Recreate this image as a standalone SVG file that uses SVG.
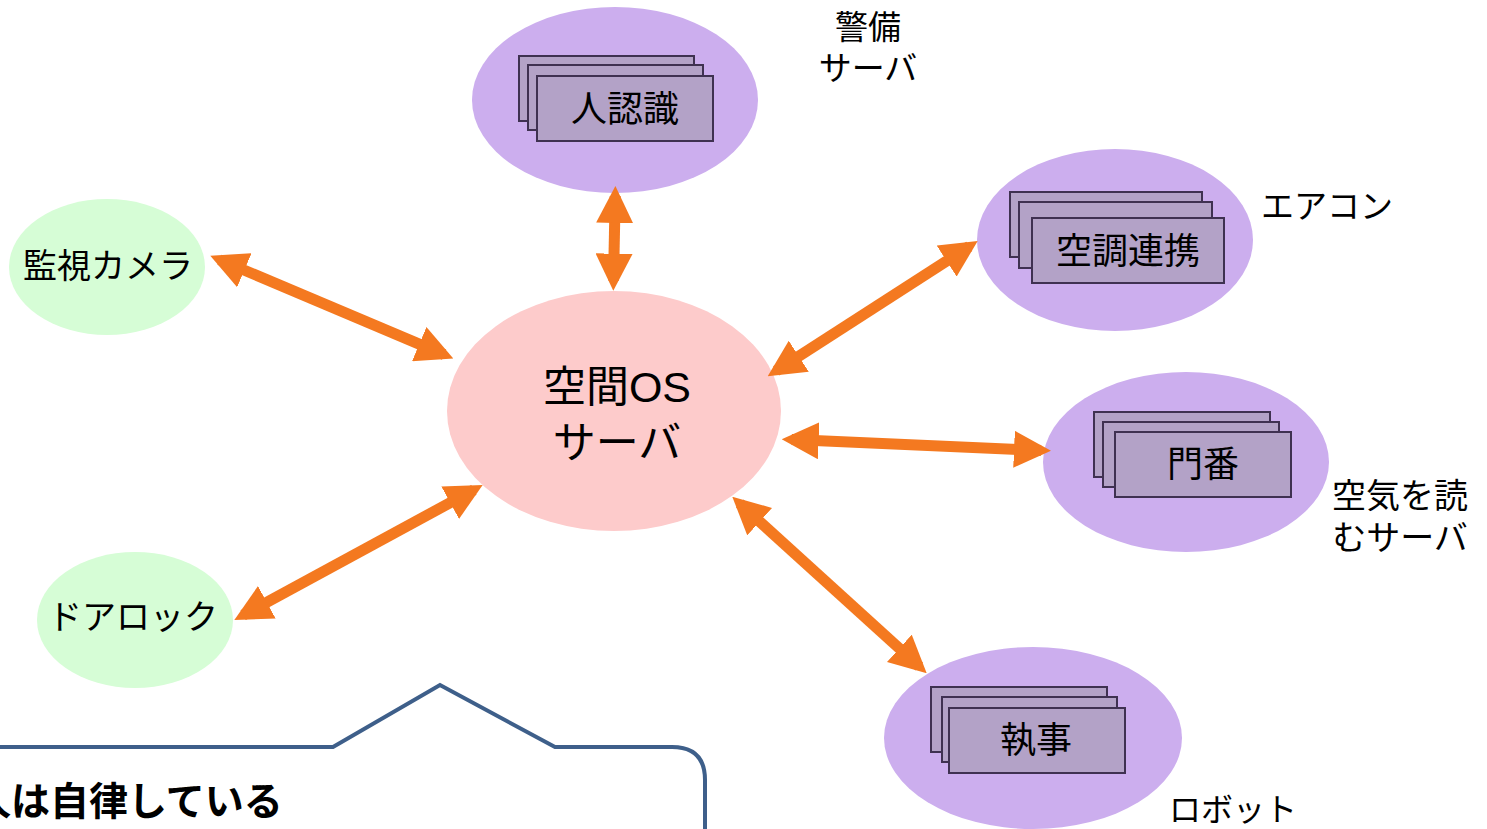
<svg xmlns="http://www.w3.org/2000/svg" width="1487" height="829" viewBox="0 0 1487 829">
<defs>
<style>
.t{font-family:"Liberation Sans","Noto Sans CJK JP",sans-serif;fill:#000;text-anchor:middle;dominant-baseline:central}
.purple{fill:#CCAEEE}
.green{fill:#D6FDD6}
.card{fill:#B3A2C7;stroke:#3F3151;stroke-width:2}
.arr{stroke:#F47920;stroke-width:11;fill:none;marker-start:url(#ah);marker-end:url(#ah)}
</style>
<marker id="ah" markerUnits="userSpaceOnUse" markerWidth="37" markerHeight="37" refX="27" refY="18.5" orient="auto-start-reverse" viewBox="0 0 37 37">
<path d="M0,0 L37,18.5 L0,37 z" fill="#F47920"/>
</marker>
</defs>
<rect width="1487" height="829" fill="#fff"/>

<g id="center">
<ellipse cx="614" cy="411" rx="167" ry="120" fill="#FDCBCB"/>
<text class="t" x="617" y="387" font-size="43">空間OS</text>
<text class="t" x="617" y="443" font-size="43">サーバ</text>
</g>

<g id="security">
<ellipse class="purple" cx="615" cy="100" rx="143" ry="93"/>
<rect class="card" x="519" y="56" width="175" height="65"/>
<rect class="card" x="528" y="65" width="175" height="65"/>
<rect class="card" x="537" y="76" width="176" height="65"/>
<text class="t" x="625" y="109" font-size="36">人認識</text>
<text class="t" x="868" y="27" font-size="33">警備</text>
<text class="t" x="868" y="68" font-size="33">サーバ</text>
</g>

<g id="aircon">
<ellipse class="purple" cx="1115" cy="240" rx="138" ry="91"/>
<rect class="card" x="1010" y="192" width="192" height="65"/>
<rect class="card" x="1019" y="202" width="193" height="66"/>
<rect class="card" x="1032" y="218" width="192" height="65"/>
<text class="t" x="1128" y="251" font-size="36">空調連携</text>
<text class="t" x="1327" y="206" font-size="33">エアコン</text>
</g>

<g id="gate">
<ellipse class="purple" cx="1186" cy="462" rx="143" ry="90"/>
<rect class="card" x="1094" y="412" width="176" height="65"/>
<rect class="card" x="1103" y="422" width="176" height="65"/>
<rect class="card" x="1115" y="432" width="176" height="65"/>
<text class="t" x="1203" y="464" font-size="36">門番</text>
<text class="t" x="1400" y="496" font-size="34">空気を読</text>
<text class="t" x="1400" y="538" font-size="34">むサーバ</text>
</g>

<g id="butler">
<ellipse class="purple" cx="1033" cy="738" rx="149" ry="91"/>
<rect class="card" x="931" y="687" width="176" height="65"/>
<rect class="card" x="942" y="697" width="175" height="65"/>
<rect class="card" x="949" y="708" width="176" height="65"/>
<text class="t" x="1036" y="740" font-size="36">執事</text>
<text class="t" x="1233" y="810" font-size="32">ロボット</text>
</g>

<g id="camera">
<ellipse class="green" cx="107" cy="267" rx="98" ry="68"/>
<text class="t" x="108" y="266" font-size="34">監視カメラ</text>
</g>

<g id="doorlock">
<ellipse class="green" cx="135" cy="620" rx="98" ry="68"/>
<text class="t" x="133" y="617" font-size="34">ドアロック</text>
</g>

<g id="callout">
<path d="M-5,747 L333,747 L440,685 L555,747 L672,747 Q705,747 705,780 L705,835" fill="none" stroke="#3E5F8A" stroke-width="4"/>
<text x="-28" y="801" font-size="39" font-weight="bold" dominant-baseline="central" font-family="Liberation Sans,Noto Sans CJK JP,sans-serif">人は自律している</text>
</g>

<g id="connectors">
<line class="arr" x1="615.2" y1="196" x2="613.5" y2="280.7"/>
<line class="arr" x1="219.5" y1="259.7" x2="444.1" y2="354.6"/>
<line class="arr" x1="969.3" y1="246.4" x2="776.1" y2="370.9"/>
<line class="arr" x1="791.7" y1="439.6" x2="1041" y2="450.4"/>
<line class="arr" x1="739.7" y1="503.5" x2="919.3" y2="666.5"/>
<line class="arr" x1="243.1" y1="615.2" x2="473.9" y2="489.8"/>
</g>
</svg>
